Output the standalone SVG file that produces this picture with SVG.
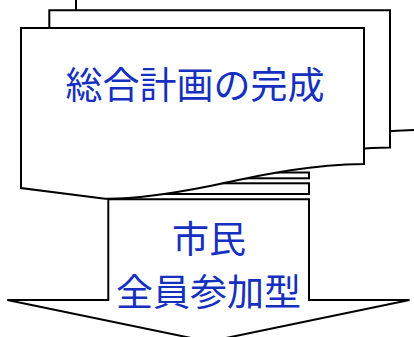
<svg xmlns="http://www.w3.org/2000/svg" width="414" height="337" viewBox="0 0 414 337">
<style>
.ln{fill:#fff;stroke:#000;stroke-width:2;stroke-linejoin:miter}
.t{font-family:"Noto Sans CJK JP","Noto Sans CJK SC",sans-serif;font-size:37px;fill:#1530c0;text-anchor:middle}
</style>
<rect width="414" height="337" fill="#fff"/>
<g id="doc3">
<path class="ln" d="M76,-8 H416 V130 C352,131 302,144 262,152 C222,160 182,165 157,164.7 L76,154 Z"/>
</g>
<g id="doc2">
<path class="ln" d="M49.3,10.3 H390 V147.5 C326,148.5 276,161.5 236,169.5 C196,177.5 156,182.7 131,182.4 L49.3,171.8 Z"/>
</g>
<g id="arrow">
<rect class="ln" x="108.3" y="172.5" width="200.7" height="5.8"/>
<rect class="ln" x="108.3" y="183.3" width="200.7" height="10.7"/>
<path class="ln" d="M108.3,199.3 H309 V300 H409.5 L208.6,341.6 L7.3,300 H108.3 Z"/>
<text class="t" x="209" y="252.5">市民</text>
<text class="t" x="208.5" y="305.5">全員参加型</text>
</g>
<g id="doc1">
<path class="ln" d="M21,28 H364 V164 C300,165 250,178 210,186 C170,194 130,199 105,198.7 L21,188 Z"/>
<text class="t" x="195" y="99">総合計画の完成</text>
</g>
</svg>
